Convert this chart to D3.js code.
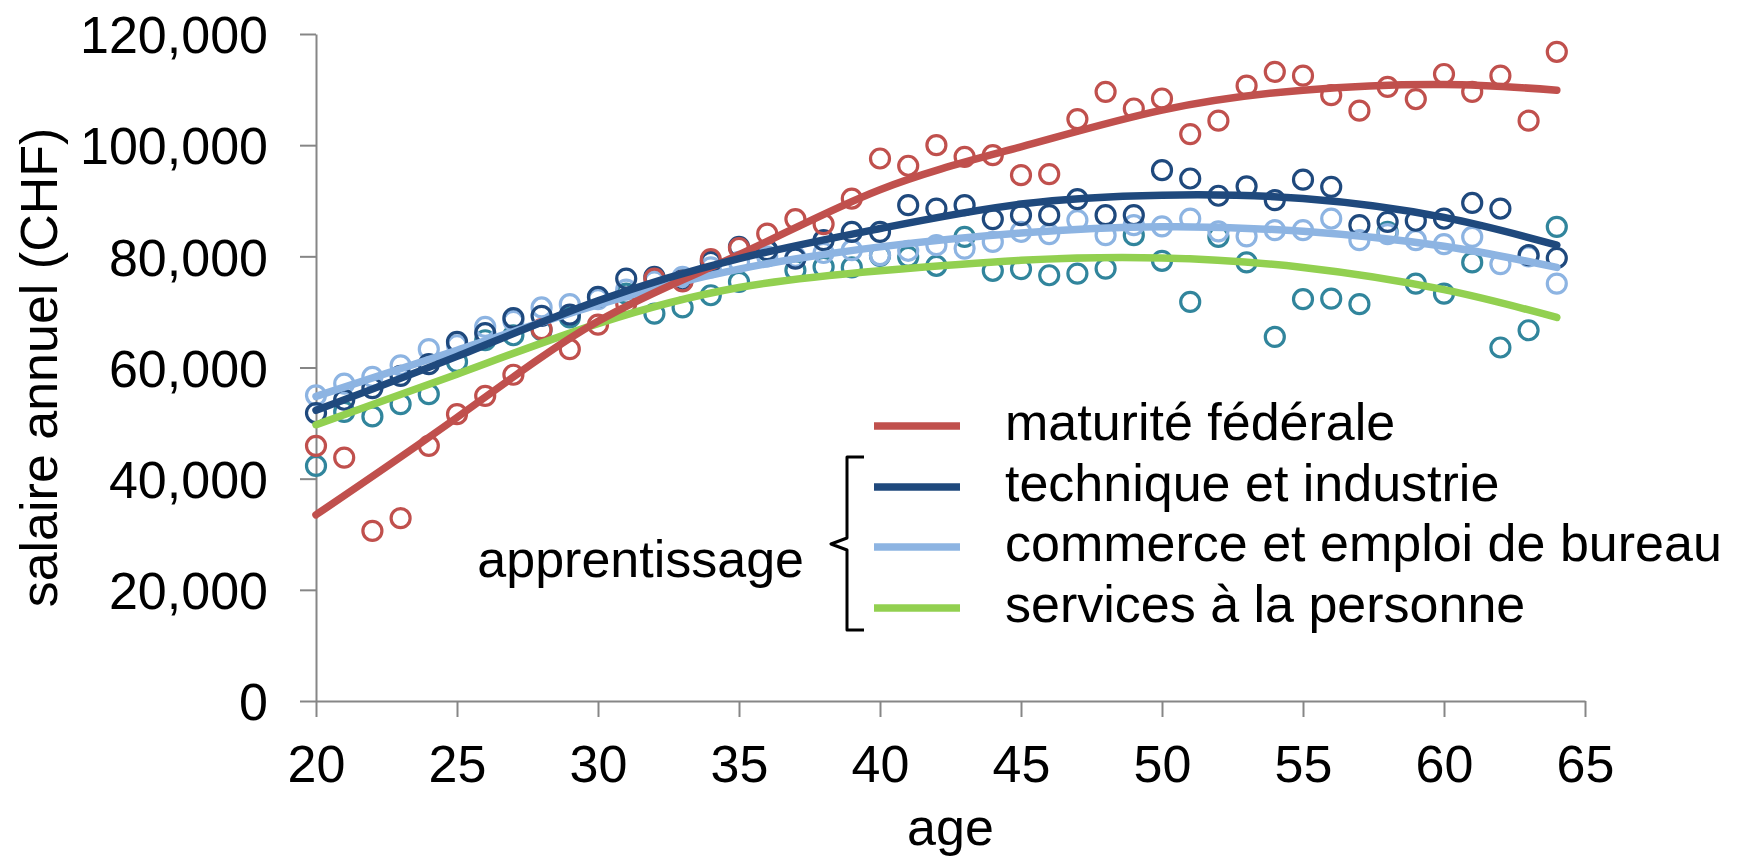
<!DOCTYPE html>
<html>
<head>
<meta charset="utf-8">
<script src="https://cdnjs.cloudflare.com/ajax/libs/d3/7.8.5/d3.min.js"></script>
<style>
    body { margin: 0; background: #fff; }
    text { font-family: "Liberation Sans", Arial, sans-serif; fill: #000; }
</style>
</head>
<body>
<script>
// ages 20..64, one point per age
var ages = d3.range(20, 65);

var maturite = [45900, 43800, 30600, 32900, 45900, 51600, 54900, 58700, 66900, 63300,
    67700, 71500, 76000, 75500, 79500, 81500, 84100, 86700, 85800, 90400,
    97600, 96300, 100000, 97900, 98200, 94600, 94800, 104700, 109600, 106600,
    108400, 102000, 104400, 110700, 113200, 112500, 109000, 106200, 110500, 108300,
    112800, 109600, 112500, 104400, 116800];

var technique = [51800, 54200, 56300, 58500, 60600, 64600, 66200, 68900, 69300, 69500,
    72700, 76000, 76300, 75700, 79000, 81700, 81100, 79600, 82900, 84400,
    84400, 89200, 88600, 89200, 86700, 87400, 87400, 90300, 87400, 87400,
    95500, 94000, 90900, 92600, 90100, 93800, 92500, 85600, 86200, 86400,
    86800, 89600, 88600, 80200, 79700];

var commerce = [55000, 57100, 58300, 60400, 63300, 64000, 67300, 68400, 70800, 71400,
    72300, 74000, 75500, 76300, 78000, 79000, 80000, 79900, 80600, 81100,
    80200, 81000, 82000, 81400, 82600, 84400, 84000, 86500, 83800, 85600,
    85400, 86800, 84500, 83600, 84700, 84700, 86800, 82900, 84000, 82900,
    82200, 83500, 78600, 80000, 75100];

var services = [42300, 52000, 51200, 53400, 55200, 61000, 64900, 65800, 66700, 69000,
    72600, 73300, 69700, 70800, 73000, 75400, 81000, 77500, 78100, 78000,
    80100, 79900, 78300, 83500, 77400, 77700, 76600, 76900, 77800, 83800,
    79200, 71800, 83500, 78900, 65500, 72300, 72400, 71400, 84400, 75100,
    73300, 78900, 63600, 66700, 85300];

// trend curves
var trendAges = [20, 25, 30, 35, 40, 45, 50, 55, 60, 64];
var trendMaturite = [33500, 51000, 68300, 80300, 92000, 99700, 106300, 109900, 110900, 109900];
var trendTechnique = [52300, 62000, 72000, 79600, 85000, 89400, 91000, 90400, 87000, 82000];
var trendCommerce = [54800, 63100, 71300, 77700, 81700, 84200, 85300, 84500, 81800, 78000];
var trendServices = [49700, 58800, 67900, 74400, 77400, 79300, 79700, 78000, 74000, 69000];

var legendLabels = ["maturité fédérale", "technique et industrie",
    "commerce et emploi de bureau", "services à la personne"];

var xTicks = [20, 25, 30, 35, 40, 45, 50, 55, 60, 65];
var yTicks = [0, 20000, 40000, 60000, 80000, 100000, 120000];

var width = 1743, height = 856;
var margin = { top: 34, right: 158, bottom: 155, left: 316 };

var svg = d3.select("body").append("svg")
    .attr("width", width)
    .attr("height", height);

var x = d3.scaleLinear().domain([20, 65]).range([margin.left, width - margin.right]);
var y = d3.scaleLinear().domain([0, 120000]).range([height - margin.bottom, margin.top]);

var axisColor = "#868686";
var fontSize = 52;

// y axis
var yAxis = svg.append("g")
    .attr("transform", "translate(" + margin.left + ",0)")
    .call(d3.axisLeft(y).tickValues(yTicks).tickFormat(d3.format(","))
        .tickSize(16).tickSizeOuter(0).tickPadding(32));

// x axis
var xAxis = svg.append("g")
    .attr("transform", "translate(0," + y(0) + ")")
    .call(d3.axisBottom(x).tickValues(xTicks)
        .tickSize(16).tickSizeOuter(0).tickPadding(28));

[yAxis, xAxis].forEach(function (a) {
    a.select(".domain").attr("stroke", axisColor).attr("stroke-width", 2);
    a.selectAll(".tick line").attr("stroke", axisColor).attr("stroke-width", 2);
    a.selectAll(".tick text")
        .style("font-size", fontSize + "px")
        .style("font-family", "'Liberation Sans', Arial, sans-serif")
        .attr("fill", "#000");
});
yAxis.selectAll(".tick text").attr("dy", "0.36em");

// axis titles
svg.append("text")
    .attr("transform", "translate(57," + ((y(0) + y(120000)) / 2) + ") rotate(-90)")
    .attr("text-anchor", "middle")
    .style("font-size", fontSize + "px")
    .text("salaire annuel (CHF)");

svg.append("text")
    .attr("x", (x(20) + x(65)) / 2)
    .attr("y", 845)
    .attr("text-anchor", "middle")
    .style("font-size", fontSize + "px")
    .text("age");

var series = [
    { pts: services, trend: trendServices, dot: "#31859C", line: "#92D050" },
    { pts: commerce, trend: trendCommerce, dot: "#8DB4E2", line: "#8DB4E2" },
    { pts: technique, trend: trendTechnique, dot: "#1F497D", line: "#1F497D" },
    { pts: maturite, trend: trendMaturite, dot: "#C0504D", line: "#C0504D" }
];

// scatter points
series.forEach(function (s) {
    svg.append("g").selectAll("circle")
        .data(s.pts)
        .enter().append("circle")
        .attr("cx", function (d, i) { return x(ages[i]); })
        .attr("cy", function (d) { return y(d); })
        .attr("r", 9.5)
        .attr("fill", "none")
        .attr("stroke", s.dot)
        .attr("stroke-width", 3.2);
});

// trend lines
var trendLine = d3.line()
    .x(function (d, i) { return x(trendAges[i]); })
    .y(function (d) { return y(d); })
    .curve(d3.curveNatural);

[series[0], series[1], series[3], series[2]].forEach(function (s) {
    svg.append("path")
        .attr("d", trendLine(s.trend))
        .attr("fill", "none")
        .attr("stroke", s.line)
        .attr("stroke-width", 7.5)
        .attr("stroke-linecap", "round");
});

// legend
var legendColors = ["#C0504D", "#1F497D", "#8DB4E2", "#92D050"];
var legendY = [426, 487, 547, 608];

var legend = svg.append("g");
legendLabels.forEach(function (lab, i) {
    legend.append("line")
        .attr("x1", 874).attr("x2", 960)
        .attr("y1", legendY[i]).attr("y2", legendY[i])
        .attr("stroke", legendColors[i])
        .attr("stroke-width", 7.5);
    legend.append("text")
        .attr("x", 1005)
        .attr("y", legendY[i] + 14)
        .style("font-size", fontSize + "px")
        .text(lab);
});

// brace grouping the apprenticeship series
legend.append("path")
    .attr("d", "M864,457 L847,457 L847,538 L831,544 L847,550 L847,630 L864,630")
    .attr("fill", "none")
    .attr("stroke", "#000")
    .attr("stroke-width", 3)
    .attr("stroke-linejoin", "round");

legend.append("text")
    .attr("x", 804)
    .attr("y", 577)
    .attr("text-anchor", "end")
    .style("font-size", fontSize + "px")
    .text("apprentissage");
</script>
</body>
</html>
